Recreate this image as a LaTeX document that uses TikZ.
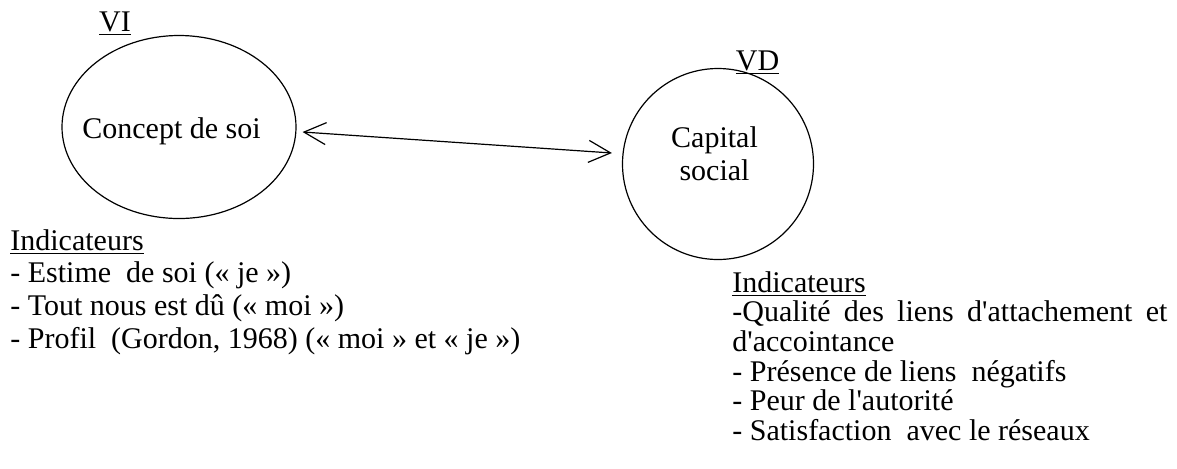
\documentclass[tikz,border=0pt]{standalone}
\usepackage{fontspec}
\setmainfont{Liberation Serif}
\usetikzlibrary{shapes.geometric,arrows.meta,positioning}

\begin{document}
\begin{tikzpicture}[x=0.5pt, y=-0.5pt, font=\fontsize{15}{18}\selectfont,
  oval/.style={draw, line width=0.6pt, inner sep=0pt},
  liste/.style={align=left, inner sep=0pt, anchor=north west},
  link/.style={{Straight Barb[length=11pt,width=11pt]}-{Straight Barb[length=11pt,width=11pt]}, line width=0.6pt}]
      \useasboundingbox (0,0) rectangle (1177,468);
      \node (concept) [oval, ellipse, minimum width=117pt, minimum height=91.5pt] at (179,127) {};
      \node (capital) [oval, circle, minimum size=95.5pt] at (718,164) {};
      \node (concepttxt) at ([xshift=-3.75pt,yshift=-2.25pt]concept.center) {Concept de soi};
      \node (capitaltxt) [align=center, font=\fontsize{15}{16.5}\selectfont] at ([xshift=-1.75pt,yshift=5.25pt]capital.center) {Capital\\social};
      \node (vi) [anchor=base, inner sep=0pt] at ([xshift=-32pt,yshift=1.75pt]concept.north) {\underline{VI}};
      \node (vd) [anchor=base, inner sep=0pt] at ([xshift=19.75pt,yshift=-1.25pt]capital.north) {\underline{VD}};
      \node (indvi) [liste, font=\fontsize{15}{16.3}\selectfont] at (10,229) {\underline{Indicateurs}\\- Estime\ \ de soi (« je »)\\- Tout nous est dû (« moi\ »)\\- Profil\ \ (Gordon,\ 1968)\ (« moi\ » et «\ je »)};
      \node (indvd) [liste, font=\fontsize{15}{14.8}\selectfont] at (732,271) {\underline{Indicateurs}\\\makebox[217.5pt][s]{-Qualité des liens d\textquotesingle attachement et}\\d\textquotesingle accointance\\- Présence de liens\ \ négatifs\\- Peur de l\textquotesingle autorité\\- Satisfaction\ \ avec le réseaux};
      \draw [link] ([xshift=3pt,yshift=-2.5pt]concept.east) to ([xshift=-5pt,yshift=5.5pt]capital.west);
\end{tikzpicture}
\end{document}
